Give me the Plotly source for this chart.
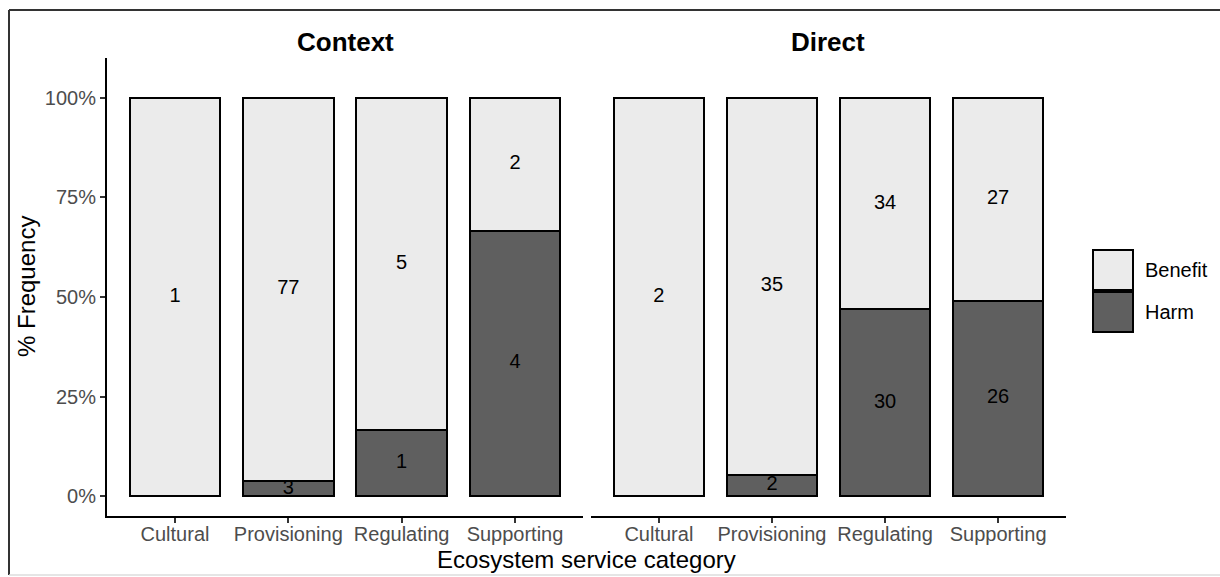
import plotly.graph_objects as go

# ---- data ----
categories = ["Cultural", "Provisioning", "Regulating", "Supporting"]
panels = ["Context", "Direct"]
context_benefit = [1, 77, 5, 2]
context_harm = [0, 3, 1, 4]
direct_benefit = [2, 35, 34, 27]
direct_harm = [0, 2, 30, 26]
y_ticks = [0, 0.25, 0.5, 0.75, 1.0]
y_tick_labels = ["0%", "25%", "50%", "75%", "100%"]

W, H = 1220, 577
BENEFIT_COL = "#EBEBEB"
HARM_COL = "#5F5F5F"
FONT = "Liberation Sans, Arial, sans-serif"

def px(x):
    return x / W

def py(y):
    return 1 - y / H

fig = go.Figure()

panel_data = [(context_benefit, context_harm, "x", "y"), (direct_benefit, direct_harm, "x2", "y2")]
xs = list(range(len(categories)))

for benefit, harm, xa, ya in panel_data:
    totals = [b + h for b, h in zip(benefit, harm)]
    harm_p = [h / t for h, t in zip(harm, totals)]
    ben_p = [b / t for b, t in zip(benefit, totals)]
    fig.add_trace(go.Bar(x=xs, y=harm_p, name="Harm", marker=dict(color=HARM_COL, line=dict(color="black", width=2)),
                         width=0.8, xaxis=xa, yaxis=ya, showlegend=False, hoverinfo="skip"))
    fig.add_trace(go.Bar(x=xs, y=ben_p, name="Benefit", marker=dict(color=BENEFIT_COL, line=dict(color="black", width=2)),
                         width=0.8, xaxis=xa, yaxis=ya, showlegend=False, hoverinfo="skip"))
    # labels at middle of each segment
    lx, ly, lt = [], [], []
    for i in xs:
        if harm[i] > 0:
            lx.append(i); ly.append(harm_p[i] / 2); lt.append(str(harm[i]))
        if benefit[i] > 0:
            lx.append(i); ly.append(harm_p[i] + ben_p[i] / 2); lt.append(str(benefit[i]))
    fig.add_trace(go.Scatter(x=lx, y=ly, text=lt, mode="text", textposition="middle center",
                             textfont=dict(size=20, color="black", family=FONT),
                             xaxis=xa, yaxis=ya, showlegend=False, hoverinfo="skip"))

ydom = [py(516), py(58)]
common_x = dict(range=[-0.6, 3.6], tickmode="array", tickvals=xs, ticktext=categories,
                showline=True, linecolor="black", linewidth=2, ticks="outside", ticklen=5,
                tickcolor="#333333", tickwidth=1.5, showgrid=False, zeroline=False,
                ticklabelstandoff=-6,
                tickfont=dict(size=20, color="#4D4D4D", family=FONT), fixedrange=True)
fig.update_layout(
    width=W, height=H,
    margin=dict(l=0, r=0, t=0, b=0),
    paper_bgcolor="white", plot_bgcolor="white",
    barmode="stack", bargap=0,
    xaxis=dict(domain=[px(107), px(583)], anchor="y", **common_x),
    xaxis2=dict(domain=[px(591), px(1066)], anchor="y2", **common_x),
    yaxis=dict(domain=ydom, range=[-0.05, 1.10], anchor="x", tickmode="array", tickvals=y_ticks,
               ticktext=y_tick_labels, showline=True, linecolor="black", linewidth=2,
               ticks="outside", ticklen=5, tickcolor="#333333", tickwidth=1.5,
               showgrid=False, zeroline=False, fixedrange=True,
               tickfont=dict(size=20, color="#4D4D4D", family=FONT)),
    yaxis2=dict(domain=ydom, range=[-0.05, 1.10], anchor="x2", showticklabels=False, fixedrange=True,
                showline=False, showgrid=False, zeroline=False, ticks=""),
    font=dict(family=FONT),
    hovermode=False,
)

annotations = []
# facet titles
for name, cx in zip(panels, [345, 828]):
    annotations.append(dict(text="<b>%s</b>" % name, x=px(cx), y=py(42), xref="paper", yref="paper",
                            showarrow=False, font=dict(size=26, color="black", family=FONT),
                            xanchor="center", yanchor="middle"))
# axis titles
annotations.append(dict(text="Ecosystem service category", x=px(586), y=py(559), xref="paper", yref="paper",
                        showarrow=False, font=dict(size=24, color="black", family=FONT),
                        xanchor="center", yanchor="middle"))
annotations.append(dict(text="% Frequency", x=px(26), y=py(287), xref="paper", yref="paper",
                        showarrow=False, textangle=-90, font=dict(size=24, color="black", family=FONT),
                        xanchor="center", yanchor="middle"))
# legend
shapes = []
legend_items = [("Benefit", BENEFIT_COL, 250), ("Harm", HARM_COL, 292)]
for label, col, top in legend_items:
    shapes.append(dict(type="rect", xref="paper", yref="paper", x0=px(1093), x1=px(1133),
                       y0=py(top + 40), y1=py(top), fillcolor=col, line=dict(color="black", width=2)))
    annotations.append(dict(text=label, x=px(1143), y=py(top + 20), xref="paper", yref="paper",
                            showarrow=False, font=dict(size=20, color="black", family=FONT),
                            xanchor="left", yanchor="middle"))
# outer frame
shapes.append(dict(type="line", xref="paper", yref="paper", x0=px(9), x1=1.01, y0=py(10), y1=py(10),
                   line=dict(color="#333333", width=2)))
shapes.append(dict(type="line", xref="paper", yref="paper", x0=px(9), x1=px(9), y0=py(10), y1=py(575),
                   line=dict(color="#333333", width=2)))
shapes.append(dict(type="line", xref="paper", yref="paper", x0=px(9), x1=1.01, y0=py(575), y1=py(575),
                   line=dict(color="#DDDDDD", width=1.5)))

fig.update_layout(annotations=annotations, shapes=shapes)
fig.write_html("out.html", config={"displayModeBar": False},
               post_script="document.body.style.margin='0';document.body.style.overflow='hidden';")
